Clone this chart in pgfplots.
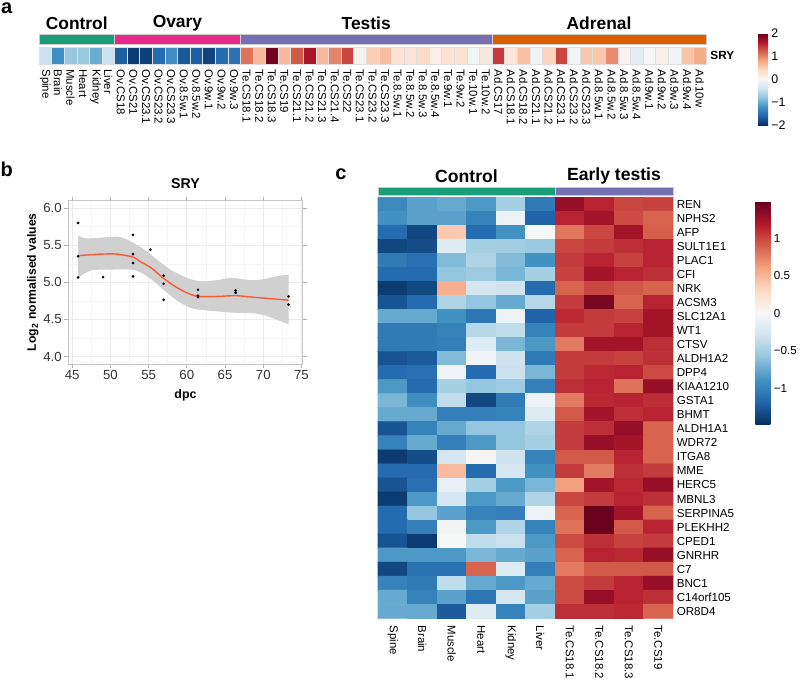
\documentclass[border=0pt]{standalone}
\usepackage{fontspec}
\setmainfont{Liberation Sans}
\usepackage{pgfplots}
\pgfplotsset{compat=1.18}
\usepgfplotslibrary{fillbetween}
\pgfplotsset{/pgf/number format/assume math mode=true,
  colormap={RdBu}{rgb255=(5,48,97) rgb255=(33,102,172) rgb255=(67,147,195) rgb255=(146,197,222) rgb255=(209,229,240) rgb255=(247,247,247) rgb255=(253,219,199) rgb255=(244,165,130) rgb255=(214,96,77) rgb255=(178,24,43) rgb255=(103,0,31)}}
\definecolor{dgreen}{HTML}{1B9E77}
\definecolor{dpink}{HTML}{E7298A}
\definecolor{dpurple}{HTML}{7570B3}
\definecolor{dorange}{HTML}{D95F02}
\definecolor{smoothline}{HTML}{FF5733}
\definecolor{bandgray}{RGB}{208,208,208}
\begin{document}
\begin{tikzpicture}[x=1pt,y=1pt]
% panel labels
\node[font=\bfseries\fontsize{10}{12}\selectfont, inner sep=0pt] at (3.4,-4) {a};
\node[font=\bfseries\fontsize{10}{12}\selectfont, inner sep=0pt] at (3.4,-84.5) {b};
\node[font=\bfseries\fontsize{10}{12}\selectfont, inner sep=0pt] at (170.5,-87) {c};

% ---------------- panel a ----------------
\begin{axis}[at={(19.5pt,-32pt)}, anchor=south west, scale only axis,
  width=333.5pt, height=8.5pt,
  xmin=-0.5, xmax=52.5, ymin=-0.5, ymax=0.5, clip=false,
  axis line style={draw=none}, major tick style={draw=none}, ytick=\empty,
  xtick={0,...,52},
  xticklabels={Spine,Brain,Muscle,Heart,Kidney,Liver,Ov.CS18,Ov.CS21,Ov.CS23.1,Ov.CS23.2,Ov.CS23.3,Ov.8.5w.1,Ov.8.5w.2,Ov.9w.1,Ov.9w.2,Ov.9w.3,Te.CS18.1,Te.CS18.2,Te.CS18.3,Te.CS19,Te.CS21.1,Te.CS21.2,Te.CS21.3,Te.CS21.4,Te.CS22,Te.CS23.1,Te.CS23.2,Te.CS23.3,Te.8.5w.1,Te.8.5w.2,Te.8.5w.3,Te.8.5w.4,Te.9w.1,Te.9w.2,Te.10w.1,Te.10w.2,Ad.CS17,Ad.CS18.1,Ad.CS18.2,Ad.CS21.1,Ad.CS21.2,Ad.CS23.1,Ad.CS23.2,Ad.CS23.3,Ad.8.5w.1,Ad.8.5w.2,Ad.8.5w.3,Ad.8.5w.4,Ad.9w.1,Ad.9w.2,Ad.9w.3,Ad.9w.4,Ad.10w},
  xticklabel style={rotate=-90, anchor=west, inner sep=0pt, font=\fontsize{5.7}{6}\selectfont},
  xticklabel shift=2.5pt,
  point meta min=-2, point meta max=2,
  colorbar,
  colorbar style={scale only axis, width=5pt, height=46pt,
    at={(parent axis.north east)}, anchor=north west, xshift=17.5pt, yshift=7pt,
    ytick={-2,-1,0,1,2}, yticklabels={−2,−1,0,1,2},
    yticklabel style={font=\fontsize{6.2}{7}\selectfont, inner sep=1.5pt},
    axis line style={draw=none}, major tick style={draw=none}}
]
\addplot[scatter, only marks, mark=square*, mark size=3.146pt, point meta=explicit,
  scatter/use mapped color={draw=gray!25, fill=mapped color, line width=0.25pt},
  mark options={yscale=1.351}] coordinates {
(0,0) [-0.45] (1,0) [-1.25] (2,0) [-0.78] (3,0) [-0.75] (4,0) [-1.0] (5,0) [-0.45]
(6,0) [-1.65] (7,0) [-1.92] (8,0) [-1.88] (9,0) [-1.55] (10,0) [-1.25] (11,0) [-1.7] (12,0) [-1.65] (13,0) [-1.85] (14,0) [-1.55] (15,0) [-1.48]
(16,0) [1.1] (17,0) [0.65] (18,0) [1.95] (19,0) [0.65] (20,0) [1.25] (21,0) [1.65] (22,0) [0.65] (23,0) [1.0] (24,0) [1.35] (25,0) [0.08]
(26,0) [0.5] (27,0) [0.62] (28,0) [0.28] (29,0) [0.28] (30,0) [0.4] (31,0) [0.15] (32,0) [0.3] (33,0) [0.3] (34,0) [-0.05] (35,0) [0.22]
(36,0) [1.4] (37,0) [0.25] (38,0) [0.6] (39,0) [-0.05] (40,0) [0.45] (41,0) [1.35] (42,0) [-0.05] (43,0) [0.55] (44,0) [0.55] (45,0) [0.95]
(46,0) [0.08] (47,0) [-0.2] (48,0) [-0.02] (49,0) [0.1] (50,0) [-0.05] (51,0) [0.58] (52,0) [0.75]
};
% annotation bars
\addplot[fill=dgreen, draw=gray!40, line width=0.4pt] coordinates {(-0.5,0.676) (5.5,0.676) (5.5,1.265) (-0.5,1.265)} -- cycle;
\addplot[fill=dpink, draw=gray!40, line width=0.4pt] coordinates {(5.5,0.676) (15.5,0.676) (15.5,1.265) (5.5,1.265)} -- cycle;
\addplot[fill=dpurple, draw=gray!40, line width=0.4pt] coordinates {(15.5,0.676) (35.5,0.676) (35.5,1.265) (15.5,1.265)} -- cycle;
\addplot[fill=dorange, draw=gray!40, line width=0.4pt] coordinates {(35.5,0.676) (52.5,0.676) (52.5,1.265) (35.5,1.265)} -- cycle;
\node[font=\bfseries\fontsize{8.7}{10}\selectfont] at (axis cs:2.5,1.91) {Control};
\node[font=\bfseries\fontsize{8.7}{10}\selectfont] at (axis cs:10.5,1.91) {Ovary};
\node[font=\bfseries\fontsize{8.7}{10}\selectfont] at (axis cs:25.5,1.91) {Testis};
\node[font=\bfseries\fontsize{8.7}{10}\selectfont] at (axis cs:44,1.91) {Adrenal};
\node[font=\bfseries\fontsize{5.9}{6}\selectfont, anchor=west, inner sep=0pt] at (axis cs:52.82,0) {SRY};
\end{axis}

% ---------------- panel b ----------------
\begin{axis}[at={(34pt,-182pt)}, anchor=south west, scale only axis,
  width=117.5pt, height=81.65pt,
  xmin=44.45, xmax=75.2, ymin=3.9, ymax=6.1,
  xtick={45,50,55,60,65,70,75}, xticklabels={45,50,55,60,65,70,75},
  ytick={4,4.5,5,5.5,6}, yticklabels={4.0,4.5,5.0,5.5,6.0},
  minor x tick num=1, minor y tick num=1,
  grid=both, major grid style={gray!15, line width=0.4pt}, minor grid style={gray!8, line width=0.25pt},
  axis line style={gray!45, line width=0.5pt},
  tick align=outside, major tick length=1.8pt, minor tick length=0pt,
  major tick style={gray!60, line width=0.4pt},
  ticklabel style={font=\fontsize{6.6}{7}\selectfont, text=black!80},
  xticklabel style={inner sep=1.2pt}, yticklabel style={inner sep=1.2pt},
  title={SRY}, title style={at={(axis description cs:0.5,1.03)}, anchor=center, font=\bfseries\fontsize{7.1}{8}\selectfont},
  xlabel={dpc}, xlabel style={at={(axis description cs:0.5,-0.19)}, anchor=center, font=\bfseries\fontsize{6.2}{7}\selectfont},
  ylabel={Log\textsubscript{2} normalised values}, ylabel style={at={(axis description cs:-0.15,0.5)}, anchor=center, font=\bfseries\fontsize{6.1}{7}\selectfont}
]
\addplot[name path=U, draw=none, smooth, forget plot] coordinates {
(45.77,5.629) (46.95,5.593) (50.0,5.611) (51.31,5.611) (53.05,5.530) (54.79,5.418) (56.10,5.306) (57.84,5.172) (60.02,5.060) (61.76,5.015) (63.94,5.029) (65.69,5.060) (66.99,5.047) (69.17,5.029) (71.79,5.083) (73.31,5.105)};
\addplot[name path=L, draw=none, smooth, forget plot] coordinates {
(45.77,5.060) (47.39,5.159) (50.0,5.172) (52.61,5.172) (53.92,5.136) (55.66,5.016) (57.41,4.859) (59.15,4.725) (60.89,4.644) (63.51,4.613) (66.12,4.591) (68.74,4.582) (70.48,4.546) (73.31,4.434)};
\addplot[fill=bandgray, draw=none] fill between[of=U and L];
\addplot[smoothline, line width=0.7pt, smooth] coordinates {
(45.77,5.36) (48.7,5.38) (50.87,5.38) (52.96,5.34) (53.9,5.28) (55.4,5.19) (57.0,5.05) (58.7,4.93) (60.2,4.85) (61.5,4.81) (63.9,4.81) (66.4,4.82) (68.7,4.80) (73.31,4.76)};
\addplot[only marks, mark=*, mark size=0.45pt, black] coordinates {
(45.77,5.80) (45.77,5.35) (45.77,5.065) (49.04,5.07) (52.96,5.64) (52.96,5.38) (52.96,5.26) (52.96,5.08) (55.23,5.44) (56.97,5.09) (56.97,4.98) (56.97,4.765) (61.46,4.90) (61.46,4.82) (61.46,4.80) (66.38,4.89) (66.38,4.86) (73.31,4.81) (73.31,4.70)};
\end{axis}

% ---------------- panel c ----------------
\begin{axis}[at={(189pt,-309.15pt)}, anchor=south west, scale only axis,
  width=147.5pt, height=210.5pt,
  xmin=-0.5, xmax=9.5, ymin=-0.5, ymax=29.5, y dir=reverse, clip=false,
  axis line style={draw=none}, major tick style={draw=none},
  xtick={0,...,9},
  xticklabels={Spine,Brain,Muscle,Heart,Kidney,Liver,Te.CS18.1,Te.CS18.2,Te.CS18.3,Te.CS19},
  xticklabel style={rotate=-90, anchor=west, inner sep=0pt, font=\fontsize{5.7}{6}\selectfont},
  xticklabel shift=3.5pt,
  ytick={0,...,29},
  yticklabels={REN,NPHS2,AFP,SULT1E1,PLAC1,CFI,NRK,ACSM3,SLC12A1,WT1,CTSV,ALDH1A2,DPP4,KIAA1210,GSTA1,BHMT,ALDH1A1,WDR72,ITGA8,MME,HERC5,MBNL3,SERPINA5,PLEKHH2,CPED1,GNRHR,C7,BNC1,C14orf105,OR8D4},
  yticklabel pos=right,
  yticklabel style={anchor=west, inner sep=0pt, font=\fontsize{5.8}{6}\selectfont},
  yticklabel shift=1.7pt,
  point meta min=-1.48, point meta max=1.49,
  colorbar,
  colorbar style={scale only axis, width=7.5pt, height=111.15pt, y dir=normal,
    at={(parent axis.north east)}, anchor=north west, xshift=32.7pt, yshift=-2.2pt,
    ytick={-1,-0.5,0,0.5,1}, yticklabels={−1,−0.5,0,0.5,1},
    yticklabel style={font=\fontsize{5.8}{6}\selectfont, inner sep=1.5pt, anchor=west},
    axis line style={draw=none}, major tick style={draw=none}}
]
\addplot[matrix plot*, mesh/cols=10, point meta=explicit] coordinates {
(0,0) [-0.95] (1,0) [-0.8] (2,0) [-0.75] (3,0) [-0.85] (4,0) [-0.5] (5,0) [-1.05] (6,0) [1.3] (7,0) [1.15] (8,0) [1.0] (9,0) [1.02]
(0,1) [-0.9] (1,1) [-0.8] (2,1) [-0.8] (3,1) [-1.0] (4,1) [-0.08] (5,1) [-1.2] (6,1) [1.15] (7,1) [1.25] (8,1) [0.98] (9,1) [0.88]
(0,2) [-1.15] (1,2) [-1.35] (2,2) [0.4] (3,2) [-1.15] (4,2) [-0.9] (5,2) [0.0] (6,2) [0.8] (7,2) [1.0] (8,2) [1.25] (9,2) [0.9]
(0,3) [-1.35] (1,3) [-1.32] (2,3) [-0.2] (3,3) [-0.5] (4,3) [-0.52] (5,3) [-0.55] (6,3) [1.0] (7,3) [1.05] (8,3) [1.1] (9,3) [1.15]
(0,4) [-1.05] (1,4) [-1.12] (2,4) [-0.65] (3,4) [-0.45] (4,4) [-0.65] (5,4) [-0.9] (6,4) [1.05] (7,4) [1.15] (8,4) [1.02] (9,4) [1.15]
(0,5) [-1.15] (1,5) [-1.15] (2,5) [-0.58] (3,5) [-0.53] (4,5) [-0.68] (5,5) [-0.5] (6,5) [1.02] (7,5) [1.25] (8,5) [1.15] (9,5) [1.1]
(0,6) [-1.42] (1,6) [-1.35] (2,6) [0.55] (3,6) [-0.25] (4,6) [-0.3] (5,6) [-1.15] (6,6) [0.88] (7,6) [1.0] (8,6) [0.93] (9,6) [0.88]
(0,7) [-1.28] (1,7) [-1.15] (2,7) [-0.45] (3,7) [-0.58] (4,7) [-0.75] (5,7) [-0.42] (6,7) [1.05] (7,7) [1.42] (8,7) [0.88] (9,7) [1.15]
(0,8) [-0.75] (1,8) [-0.75] (2,8) [-0.9] (3,8) [-1.08] (4,8) [-0.08] (5,8) [-1.2] (6,8) [1.13] (7,8) [1.05] (8,8) [1.02] (9,8) [1.25]
(0,9) [-1.05] (1,9) [-1.05] (2,9) [-1.0] (3,9) [-0.42] (4,9) [-0.37] (5,9) [-1.0] (6,9) [1.05] (7,9) [1.05] (8,9) [1.15] (9,9) [1.25]
(0,10) [-1.05] (1,10) [-1.05] (2,10) [-1.02] (3,10) [-0.2] (4,10) [-0.68] (5,10) [-0.85] (6,10) [0.78] (7,10) [1.25] (8,10) [1.25] (9,10) [1.1]
(0,11) [-1.28] (1,11) [-1.25] (2,11) [-0.65] (3,11) [-0.05] (4,11) [-0.3] (5,11) [-1.05] (6,11) [1.05] (7,11) [1.05] (8,11) [1.02] (9,11) [1.1]
(0,12) [-1.15] (1,12) [-1.12] (2,12) [-0.05] (3,12) [-1.15] (4,12) [-0.32] (5,12) [-0.68] (6,12) [1.05] (7,12) [1.13] (8,12) [1.15] (9,12) [0.98]
(0,13) [-0.85] (1,13) [-1.15] (2,13) [-0.5] (3,13) [-0.58] (4,13) [-0.53] (5,13) [-1.02] (6,13) [1.1] (7,13) [1.15] (8,13) [0.82] (9,13) [1.3]
(0,14) [-0.68] (1,14) [-0.92] (2,14) [-0.37] (3,14) [-1.35] (4,14) [-1.05] (5,14) [-0.08] (6,14) [0.78] (7,14) [1.13] (8,14) [1.15] (9,14) [1.1]
(0,15) [-0.75] (1,15) [-0.75] (2,15) [-1.02] (3,15) [-1.02] (4,15) [-1.0] (5,15) [-0.2] (6,15) [0.93] (7,15) [1.25] (8,15) [1.1] (9,15) [1.15]
(0,16) [-1.28] (1,16) [-1.0] (2,16) [-0.75] (3,16) [-0.58] (4,16) [-0.58] (5,16) [-0.45] (6,16) [1.05] (7,16) [1.1] (8,16) [1.3] (9,16) [0.88]
(0,17) [-1.0] (1,17) [-0.75] (2,17) [-1.02] (3,17) [-0.85] (4,17) [-0.58] (5,17) [-0.5] (6,17) [1.05] (7,17) [1.3] (8,17) [1.25] (9,17) [0.88]
(0,18) [-1.42] (1,18) [-1.32] (2,18) [-0.25] (3,18) [0.03] (4,18) [-0.3] (5,18) [-1.0] (6,18) [0.93] (7,18) [0.93] (8,18) [1.15] (9,18) [0.88]
(0,19) [-1.15] (1,19) [-1.15] (2,19) [0.48] (3,19) [-1.15] (4,19) [-0.25] (5,19) [-0.9] (6,19) [1.05] (7,19) [0.78] (8,19) [1.1] (9,19) [1.05]
(0,20) [-1.28] (1,20) [-1.12] (2,20) [-0.12] (3,20) [-0.5] (4,20) [-0.85] (5,20) [-0.68] (6,20) [0.62] (7,20) [1.25] (8,20) [1.13] (9,20) [1.3]
(0,21) [-1.42] (1,21) [-0.85] (2,21) [-0.25] (3,21) [-0.85] (4,21) [-0.75] (5,21) [-0.45] (6,21) [1.0] (7,21) [1.05] (8,21) [1.15] (9,21) [1.1]
(0,22) [-1.15] (1,22) [-0.58] (2,22) [-0.8] (3,22) [-1.0] (4,22) [-1.02] (5,22) [-0.08] (6,22) [0.88] (7,22) [1.48] (8,22) [1.25] (9,22) [0.88]
(0,23) [-1.15] (1,23) [-1.02] (2,23) [-0.03] (3,23) [-0.85] (4,23) [-0.45] (5,23) [-1.0] (6,23) [0.82] (7,23) [1.48] (8,23) [0.93] (9,23) [1.15]
(0,24) [-1.28] (1,24) [-1.42] (2,24) [0.0] (3,24) [-0.37] (4,24) [-0.33] (5,24) [-0.85] (6,24) [0.98] (7,24) [1.1] (8,24) [1.02] (9,24) [1.05]
(0,25) [-0.85] (1,25) [-0.85] (2,25) [-0.85] (3,25) [-0.68] (4,25) [-0.75] (5,25) [-0.8] (6,25) [0.88] (7,25) [1.15] (8,25) [1.13] (9,25) [1.3]
(0,26) [-1.35] (1,26) [-1.1] (2,26) [-1.1] (3,26) [0.88] (4,26) [-0.2] (5,26) [-1.02] (6,26) [0.78] (7,26) [0.93] (8,26) [0.93] (9,26) [0.93]
(0,27) [-1.0] (1,27) [-1.05] (2,27) [-0.37] (3,27) [-0.75] (4,27) [-0.85] (5,27) [-0.75] (6,27) [0.98] (7,27) [1.05] (8,27) [1.15] (9,27) [1.3]
(0,28) [-0.75] (1,28) [-1.0] (2,28) [-0.8] (3,28) [-1.08] (4,28) [-0.25] (5,28) [-0.8] (6,28) [0.98] (7,28) [1.3] (8,28) [1.15] (9,28) [1.1]
(0,29) [-0.75] (1,29) [-0.75] (2,29) [-1.25] (3,29) [-0.2] (4,29) [-1.0] (5,29) [-0.5] (6,29) [1.1] (7,29) [1.1] (8,29) [1.13] (9,29) [0.88]
};
\addplot[fill=dgreen, draw=gray!40, line width=0.4pt] coordinates {(-0.5,-0.614) (5.5,-0.614) (5.5,-1.184) (-0.5,-1.184)} -- cycle;
\addplot[fill=dpurple, draw=gray!40, line width=0.4pt] coordinates {(5.5,-0.614) (9.5,-0.614) (9.5,-1.184) (5.5,-1.184)} -- cycle;
\node[font=\bfseries\fontsize{8.8}{10}\selectfont] at (axis cs:2.5,-2.02) {Control};
\node[font=\bfseries\fontsize{8.8}{10}\selectfont] at (axis cs:7.5,-2.02) {Early testis};
\end{axis}
\pgfresetboundingbox
\path[use as bounding box] (0,0) rectangle (400,-340);
\end{tikzpicture}
\end{document}
